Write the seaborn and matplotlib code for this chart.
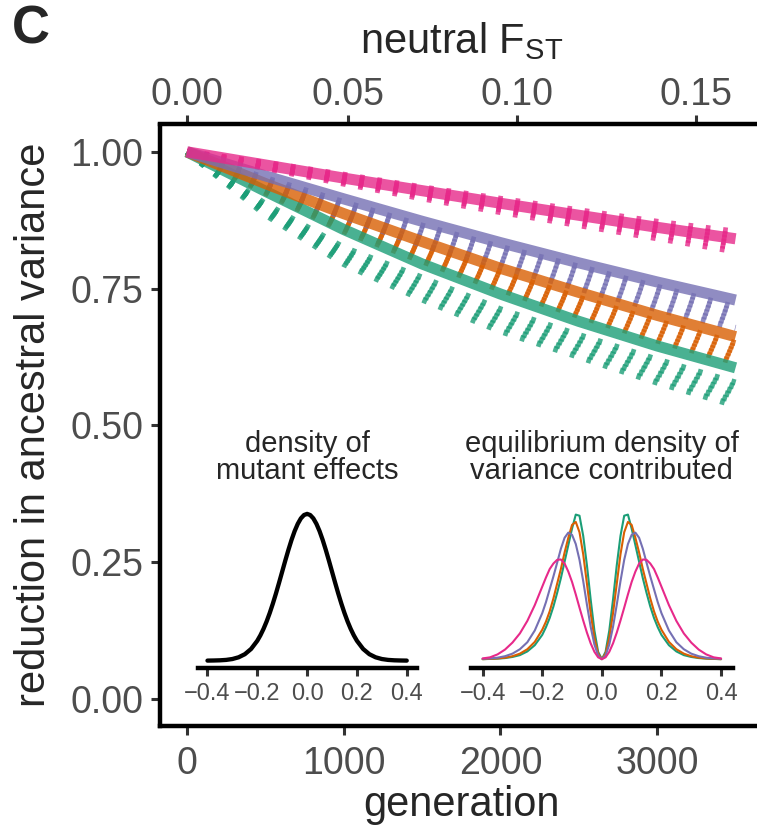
import numpy as np
import pandas as pd
import matplotlib
matplotlib.use("Agg")
import matplotlib.pyplot as plt
import seaborn as sns

sns.set_style("ticks")
plt.rcParams['font.family'] = ['Liberation Sans', 'DejaVu Sans']
plt.rcParams['mathtext.default'] = 'regular'

# ---------------- data ----------------
models = ['m1', 'm2', 'm3', 'm4']
palette = {'m1': '#1B9E77', 'm2': '#D95F02', 'm3': '#7570B3', 'm4': '#E7298A'}

generations = [0, 500, 1000, 1500, 2000, 2500, 3000, 3500]

# expected decay (solid, thick lines)
theory_m1 = [1.0, 0.928, 0.858, 0.795, 0.740, 0.690, 0.645, 0.605]
theory_m2 = [1.0, 0.942, 0.887, 0.836, 0.787, 0.743, 0.701, 0.662]
theory_m3 = [1.0, 0.956, 0.914, 0.873, 0.834, 0.797, 0.762, 0.729]
theory_m4 = [1.0, 0.976, 0.952, 0.929, 0.906, 0.884, 0.862, 0.841]

# simulation replicates (dotted lines)
sim_m1 = [
    [1.0, 0.905, 0.825, 0.770, 0.712, 0.665, 0.620, 0.578],
    [1.0, 0.901, 0.819, 0.762, 0.704, 0.657, 0.612, 0.570],
    [1.0, 0.897, 0.813, 0.754, 0.696, 0.649, 0.603, 0.561],
    [1.0, 0.893, 0.807, 0.746, 0.688, 0.641, 0.595, 0.553],
    [1.0, 0.889, 0.801, 0.738, 0.680, 0.633, 0.586, 0.544],
    [1.0, 0.885, 0.795, 0.730, 0.672, 0.625, 0.578, 0.536],
]
sim_m2 = [
    [1.0, 0.940, 0.880, 0.830, 0.780, 0.733, 0.690, 0.650],
    [1.0, 0.937, 0.875, 0.824, 0.774, 0.726, 0.683, 0.643],
    [1.0, 0.934, 0.870, 0.818, 0.767, 0.720, 0.676, 0.636],
    [1.0, 0.931, 0.865, 0.812, 0.761, 0.713, 0.669, 0.629],
    [1.0, 0.928, 0.860, 0.806, 0.754, 0.707, 0.662, 0.622],
    [1.0, 0.925, 0.855, 0.800, 0.748, 0.700, 0.655, 0.615],
]
sim_m3 = [
    [1.0, 0.952, 0.908, 0.865, 0.826, 0.790, 0.753, 0.716],
    [1.0, 0.949, 0.902, 0.858, 0.819, 0.782, 0.745, 0.708],
    [1.0, 0.945, 0.897, 0.851, 0.812, 0.774, 0.737, 0.701],
    [1.0, 0.942, 0.891, 0.844, 0.804, 0.766, 0.728, 0.693],
    [1.0, 0.938, 0.886, 0.837, 0.797, 0.758, 0.720, 0.686],
    [1.0, 0.935, 0.880, 0.830, 0.790, 0.750, 0.712, 0.678],
]
sim_m4 = [
    [1.0, 0.980, 0.958, 0.935, 0.914, 0.893, 0.872, 0.854],
    [1.0, 0.978, 0.955, 0.931, 0.909, 0.888, 0.866, 0.847],
    [1.0, 0.976, 0.952, 0.927, 0.904, 0.882, 0.860, 0.840],
    [1.0, 0.974, 0.948, 0.923, 0.900, 0.877, 0.854, 0.832],
    [1.0, 0.972, 0.945, 0.919, 0.895, 0.871, 0.848, 0.825],
    [1.0, 0.970, 0.942, 0.915, 0.890, 0.866, 0.842, 0.818],
]

# inset densities, sampled at these mutant effect sizes
effects = [-0.4, -0.375, -0.35, -0.325, -0.3, -0.275, -0.25, -0.225, -0.2,
           -0.1875, -0.175, -0.1625, -0.15, -0.1375, -0.125, -0.1125, -0.1,
           -0.0875, -0.075, -0.0625, -0.05, -0.0375, -0.025, -0.0125, 0.0,
           0.0125, 0.025, 0.0375, 0.05, 0.0625, 0.075, 0.0875, 0.1,
           0.1125, 0.125, 0.1375, 0.15, 0.1625, 0.175, 0.1875, 0.2,
           0.225, 0.25, 0.275, 0.3, 0.325, 0.35, 0.375, 0.4]
mutant_density = [0.001, 0.004, 0.009, 0.020, 0.044, 0.091, 0.175, 0.317, 0.540,
                  0.688, 0.863, 1.065, 1.295, 1.550, 1.826, 2.119, 2.420,
                  2.721, 3.011, 3.282, 3.521, 3.718, 3.867, 3.958, 3.989,
                  3.958, 3.867, 3.718, 3.521, 3.282, 3.011, 2.721, 2.420,
                  2.119, 1.826, 1.550, 1.295, 1.065, 0.863, 0.688, 0.540,
                  0.317, 0.175, 0.091, 0.044, 0.020, 0.009, 0.004, 0.001]
var_density_m1 = [0.0, 0.007, 0.015, 0.03, 0.06, 0.11, 0.21, 0.38, 0.66,
                  0.87, 1.12, 1.43, 1.80, 2.20, 2.65, 3.10, 3.55,
                  3.93, 3.90, 3.35, 2.55, 1.62, 0.78, 0.20, 0.0,
                  0.20, 0.78, 1.62, 2.55, 3.35, 3.90, 3.93, 3.55,
                  3.10, 2.65, 2.20, 1.80, 1.43, 1.12, 0.87, 0.66,
                  0.38, 0.21, 0.11, 0.06, 0.03, 0.015, 0.007, 0.0]
var_density_m2 = [0.0, 0.01, 0.02, 0.04, 0.08, 0.15, 0.27, 0.47, 0.80,
                  1.02, 1.30, 1.65, 2.05, 2.45, 2.90, 3.30, 3.65,
                  3.73, 3.45, 2.85, 2.05, 1.25, 0.58, 0.15, 0.0,
                  0.15, 0.58, 1.25, 2.05, 2.85, 3.45, 3.73, 3.65,
                  3.30, 2.90, 2.45, 2.05, 1.65, 1.30, 1.02, 0.80,
                  0.47, 0.27, 0.15, 0.08, 0.04, 0.02, 0.01, 0.0]
var_density_m3 = [0.01, 0.02, 0.04, 0.08, 0.15, 0.27, 0.46, 0.78, 1.25,
                  1.55, 1.90, 2.25, 2.62, 3.00, 3.30, 3.44, 3.38,
                  3.13, 2.70, 2.12, 1.48, 0.88, 0.40, 0.10, 0.0,
                  0.10, 0.40, 0.88, 1.48, 2.12, 2.70, 3.13, 3.38,
                  3.44, 3.30, 3.00, 2.62, 2.25, 1.90, 1.55, 1.25,
                  0.78, 0.46, 0.27, 0.15, 0.08, 0.04, 0.02, 0.01]
var_density_m4 = [0.02, 0.05, 0.13, 0.26, 0.45, 0.70, 1.04, 1.47, 1.97,
                  2.22, 2.45, 2.60, 2.70, 2.71, 2.60, 2.38, 2.10,
                  1.76, 1.40, 1.05, 0.72, 0.43, 0.20, 0.05, 0.0,
                  0.05, 0.20, 0.43, 0.72, 1.05, 1.40, 1.76, 2.10,
                  2.38, 2.60, 2.71, 2.70, 2.60, 2.45, 2.22, 1.97,
                  1.47, 1.04, 0.70, 0.45, 0.26, 0.13, 0.05, 0.02]

# neutral F_ST = 1 - exp(-t / 2N)
two_n = 20000

# ---------------- tidy tables ----------------
theory = {'m1': theory_m1, 'm2': theory_m2, 'm3': theory_m3, 'm4': theory_m4}
sims = {'m1': sim_m1, 'm2': sim_m2, 'm3': sim_m3, 'm4': sim_m4}
var_dens = {'m1': var_density_m1, 'm2': var_density_m2,
            'm3': var_density_m3, 'm4': var_density_m4}

theory_df = pd.DataFrame([(m, g, v) for m in models for g, v in zip(generations, theory[m])],
                         columns=['model', 'generation', 'value'])
sim_df = pd.DataFrame([(m, r, g, v) for m in models for r, rep in enumerate(sims[m])
                       for g, v in zip(generations, rep)],
                      columns=['model', 'rep', 'generation', 'value'])
dens_df = pd.DataFrame([(m, e, d) for m in models for e, d in zip(effects, var_dens[m])],
                       columns=['model', 'effect', 'density'])

# ---------------- figure ----------------
W, H = 757, 834
fig = plt.figure(figsize=(W / 100, H / 100), dpi=100)


def px_axes(left, top, right, bottom):
    return fig.add_axes([left / W, 1 - bottom / H, (right - left) / W, (bottom - top) / H])


grey = '#4D4D4D'
tick_col = '#333333'

ax = px_axes(159.5, 124.5, 763, 726)
# dotted replicates: thick strokes, short dashes (dash lengths are in linewidth units)
sns.lineplot(data=sim_df, x='generation', y='value', hue='model', units='rep',
             estimator=None, hue_order=models, palette=palette, lw=4.4, alpha=0.8,
             linestyle=(0, (0.77, 2.09)), legend=False, ax=ax)
sns.lineplot(data=theory_df, x='generation', y='value', hue='model', hue_order=models,
             palette=palette, lw=8, alpha=0.8, solid_capstyle='butt', legend=False, ax=ax)

ax.set_xlim(-175, 3675)
ax.set_ylim(-0.05, 1.05)
ax.set_xticks([0, 1000, 2000, 3000])
ax.set_yticks([0, 0.25, 0.5, 0.75, 1.0])
ax.set_yticklabels(['0.00', '0.25', '0.50', '0.75', '1.00'])
ax.tick_params(length=6.5, width=2.2, color=tick_col, labelsize=27, labelcolor=grey)
ax.tick_params(axis='x', pad=8)
ax.tick_params(axis='y', pad=5)
for s in ['top', 'right']:
    ax.spines[s].set_visible(False)
for s in ['left', 'bottom']:
    ax.spines[s].set_linewidth(3.2)
    ax.spines[s].set_color('black')
ax.set_xlabel('generation', fontsize=30, labelpad=2)
ax.set_ylabel('reduction in ancestral variance', fontsize=30, labelpad=12)

sec = ax.secondary_xaxis('top', functions=(lambda g: 1 - np.exp(-np.asarray(g) / two_n),
                                           lambda f: -two_n * np.log(1 - np.asarray(f))))
sec.set_xticks([0, 0.05, 0.10, 0.15])
sec.set_xticklabels(['0.00', '0.05', '0.10', '0.15'])
sec.tick_params(length=6.5, width=2.2, color=tick_col, labelsize=27, labelcolor=grey, pad=2)
sec.spines['top'].set_linewidth(3.2)
sec.spines['top'].set_color('black')
sec.set_xlabel('neutral F$_{ST}$', fontsize=30, labelpad=17)

fig.text(12 / W, 1 - 4 / H, 'C', fontsize=38, fontweight='bold', va='top', ha='left')


def style_inset(a, title, ylim):
    a.patch.set_alpha(0)
    a.set_xlim(-0.44, 0.44)
    a.set_ylim(*ylim)
    a.set_xticks([-0.4, -0.2, 0.0, 0.2, 0.4])
    a.set_xticklabels(['\u22120.4', '\u22120.2', '0.0', '0.2', '0.4'])
    a.set_yticks([])
    for s in ['left', 'right', 'top']:
        a.spines[s].set_visible(False)
    a.spines['bottom'].set_linewidth(3.2)
    a.spines['bottom'].set_color('black')
    a.tick_params(axis='x', length=5.5, width=2.2, color=tick_col, labelsize=17,
                  labelcolor=grey, pad=5)
    a.set_xlabel('')
    a.set_ylabel('')
    a.set_title(title, fontsize=21, linespacing=0.95, pad=20)


axl = px_axes(197.5, 506.5, 416.7, 668)
sns.lineplot(x=effects, y=mutant_density, color='black', lw=3.1, ax=axl)
style_inset(axl, 'density of\nmutant effects', (-0.2, 4.19))

axr = px_axes(470.7, 506.5, 733, 668)
sns.lineplot(data=dens_df, x='effect', y='density', hue='model', hue_order=models,
             palette=palette, lw=1.5, legend=False, ax=axr)
style_inset(axr, 'equilibrium density of\nvariance contributed', (-0.24, 4.15))

fig.savefig('out.png', dpi=100)
